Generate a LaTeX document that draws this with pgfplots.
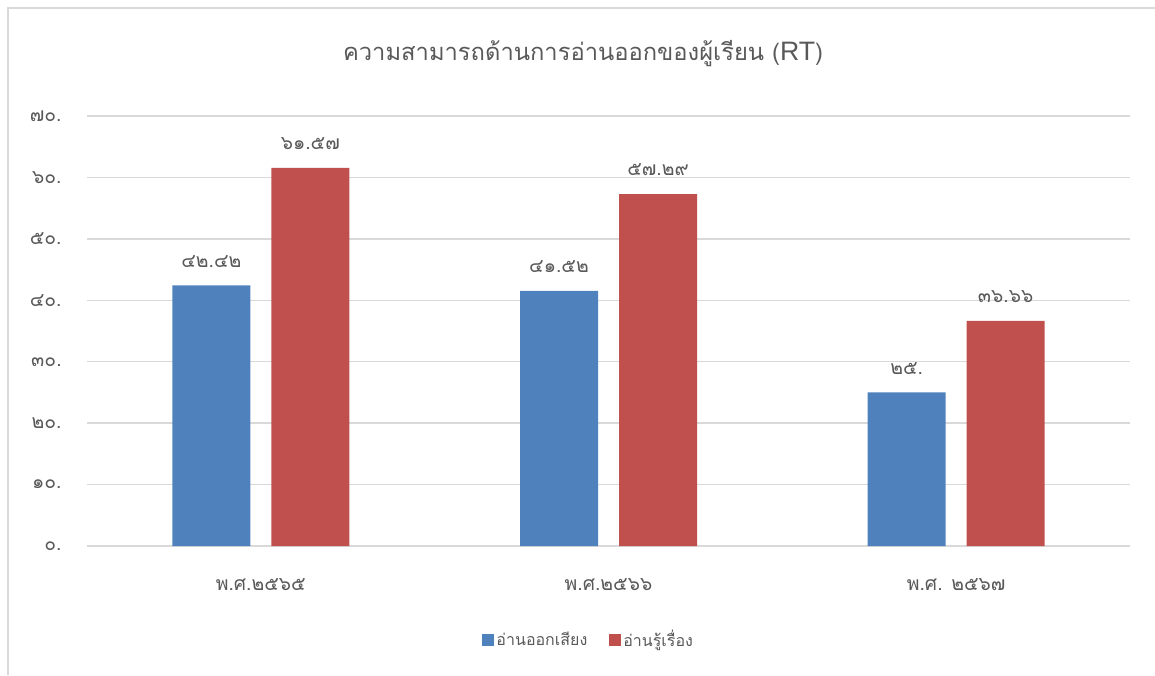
\documentclass[border=0pt]{standalone}
\usepackage{pgfplots}
\pgfplotsset{compat=1.18}
\usepackage{fontspec}
\setmainfont{Liberation Sans}
\newfontfamily\thaifont[Script=Thai]{Loma}
\definecolor{txt}{HTML}{595959}
\definecolor{gridc}{HTML}{D9D9D9}
\definecolor{cblue}{HTML}{4F81BD}
\definecolor{cred}{HTML}{C0504D}
\begin{document}
\begin{tikzpicture}
\useasboundingbox (0pt,0pt) rectangle (866.25pt,506.25pt);
\draw[gridc, line width=1pt] (6pt,0pt) -- (6pt,500.25pt) -- (866.25pt,500.25pt);
\node[text=txt, font=\thaifont\fontsize{17.8}{20}\selectfont] at (437.25pt,466pt) {ความสามารถด้านการอ่านออกของผู้เรียน ({\rmfamily\fontsize{20}{20}\selectfont RT})};
\begin{axis}[
  at={(65.25pt,96.75pt)}, anchor=south west,
  scale only axis, width=782.25pt, height=322.5pt,
  xmin=-0.5, xmax=2.5, ymin=0, ymax=70,
  ytick={0,10,...,70},
  yticklabels={๐.,๑๐.,๒๐.,๓๐.,๔๐.,๕๐.,๖๐.,๗๐.},
  xtick={0,1,2},
  xticklabels={พ.ศ.๒๕๖๕,พ.ศ.๒๕๖๖,พ.ศ. ๒๕๖๗},
  axis line style={draw=none},
  major tick length=0pt,
  ymajorgrids, grid style={gridc, line width=1pt},
  ticklabel style={text=txt, font=\thaifont\fontsize{14.5}{16}\selectfont},
  yticklabel style={xshift=-15.5pt},
  xticklabel style={yshift=-21pt},
  ybar, bar width=58.5pt,
  nodes near coords, point meta=explicit symbolic,
  every node near coord/.append style={text=txt, font=\thaifont\fontsize{14.5}{16}\selectfont, yshift=10pt},
  legend style={at={(0.481,-0.218)}, anchor=center, draw=none, legend columns=2,
    font=\thaifont\fontsize{12}{14}\selectfont, text=txt,
    /tikz/every even column/.append style={column sep=14pt}},
  legend image code/.code={\fill[#1] (0pt,-4.5pt) rectangle (9pt,4.5pt);},
]
\addplot[fill=cblue, draw=none, bar shift=-37.125pt] coordinates {(0,42.42) [๔๒.๔๒] (1,41.52) [๔๑.๕๒] (2,25) [๒๕.]};
\addplot[fill=cred, draw=none, bar shift=37.125pt] coordinates {(0,61.57) [๖๑.๕๗] (1,57.29) [๕๗.๒๙] (2,36.66) [๓๖.๖๖]};
\legend{อ่านออกเสียง,อ่านรู้เรื่อง}
\end{axis}
\end{tikzpicture}
\end{document}
